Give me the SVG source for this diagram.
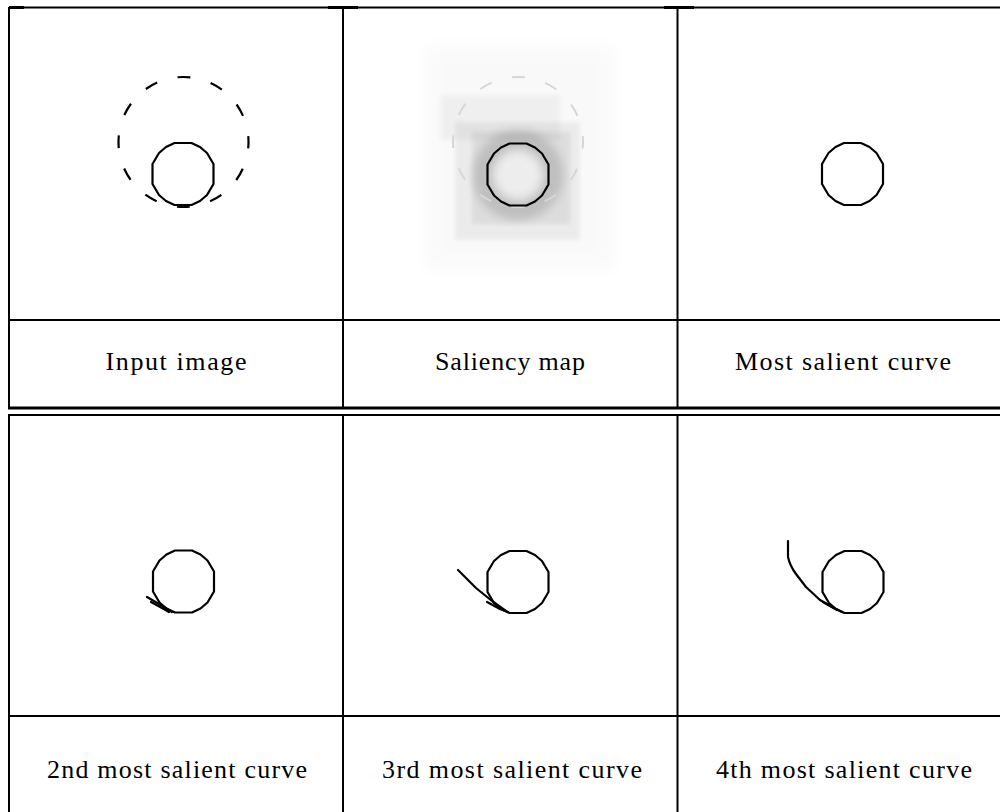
<svg xmlns="http://www.w3.org/2000/svg" width="1000" height="812" viewBox="0 0 1000 812">
<style>
.frame{stroke:#000;stroke-width:2;fill:none}
.thick{fill:#000}
.curve{fill:none;stroke:#000;stroke-width:2.2;stroke-linejoin:round;stroke-linecap:round}
.dash{fill:none;stroke:#000;stroke-width:2.2}
.lbl{font-family:"Liberation Serif","DejaVu Serif",serif;font-size:26px;fill:#000;text-anchor:middle}
</style>
<defs>
<path id="ring" d="M-8.5,-31 L8.5,-31 L17,-27 L24,-21 L30.5,-10 L30.5,10 L24,21 L17,27 L8.5,31 L-8.5,31 L-17,27 L-24,21 L-30.5,10 L-30.5,-10 L-24,-21 L-17,-27 Z"/>
<filter id="b8" x="-30%" y="-30%" width="160%" height="160%"><feGaussianBlur stdDeviation="8"/></filter>
<filter id="b4" x="-30%" y="-30%" width="160%" height="160%"><feGaussianBlur stdDeviation="4"/></filter>
<filter id="b2" x="-30%" y="-30%" width="160%" height="160%"><feGaussianBlur stdDeviation="2"/></filter>
</defs>
<rect width="1000" height="812" fill="#fff"/>

<g id="grid">
<line class="frame" x1="9" y1="7.5" x2="1000" y2="7.5"/>
<rect class="thick" x="9" y="6" width="15" height="3"/>
<rect class="thick" x="328" y="6" width="30" height="3"/>
<rect class="thick" x="664" y="6" width="30" height="3"/>
<line class="frame" x1="9" y1="7" x2="9" y2="409"/>
<line class="frame" x1="343" y1="7" x2="343" y2="409"/>
<line class="frame" x1="677.5" y1="7" x2="677.5" y2="409"/>
<line class="frame" x1="9" y1="320" x2="1000" y2="320"/>
<rect class="thick" x="8" y="406.5" width="992" height="3"/>
<rect class="thick" x="8" y="414" width="992" height="2"/>
<line class="frame" x1="9" y1="415" x2="9" y2="812"/>
<line class="frame" x1="343" y1="415" x2="343" y2="812"/>
<line class="frame" x1="677.5" y1="415" x2="677.5" y2="812"/>
<line class="frame" x1="9" y1="716" x2="1000" y2="716"/>
</g>

<g id="panel-input">
<circle class="dash" cx="183.5" cy="142" r="65" stroke-dasharray="13 21.03" stroke-dashoffset="6.5"/>
<use href="#ring" x="183" y="174" class="curve"/>
</g>

<g id="panel-saliency">
<rect x="425" y="45" width="190" height="225" fill="#000" opacity="0.02" filter="url(#b8)"/>
<rect x="440" y="95" width="120" height="45" fill="#000" opacity="0.035" filter="url(#b2)"/>
<rect x="455" y="122" width="125" height="118" fill="#000" opacity="0.05" filter="url(#b2)"/>
<rect x="472" y="132" width="98" height="92" fill="#000" opacity="0.06" filter="url(#b2)"/>
<circle cx="518" cy="175" r="36" fill="none" stroke="#000" stroke-width="18" opacity="0.13" filter="url(#b4)"/>
<circle cx="518" cy="175" r="22" fill="#fff" opacity="0.5" filter="url(#b4)"/>
<circle cx="518" cy="142" r="65" fill="none" stroke="#d6d6d6" stroke-width="2" stroke-dasharray="13 21.03" stroke-dashoffset="6.5"/>
<use href="#ring" x="518" y="174.5" class="curve"/>
</g>

<g id="panel-most">
<use href="#ring" x="852.5" y="174" class="curve"/>
</g>

<g id="panel-2nd">
<use href="#ring" x="183.5" y="581.5" class="curve"/>
<path class="curve" d="M147,597 L159,604 L172,612"/>
<path class="curve" d="M151,602 L162,608 L169,612"/>
</g>

<g id="panel-3rd">
<use href="#ring" x="518" y="582" class="curve"/>
<path class="curve" d="M458,570 L476,588 L492,601 L506,611"/>
<path class="curve" d="M487,602 L500,609 L508,612"/>
</g>

<g id="panel-4th">
<use href="#ring" x="853" y="582" class="curve"/>
<path class="curve" d="M788,541 L788,557 Q790,566 796,574 L806,587 L820,600 L834,608 L842,612"/>
<path class="curve" d="M823,602 L837,610"/>
</g>

<g id="labels" font-family="Liberation Serif, serif">
<text class="lbl" x="176" y="370" textLength="141" lengthAdjust="spacing">Input image</text>
<text class="lbl" x="510" y="370" textLength="150" lengthAdjust="spacing">Saliency map</text>
<text class="lbl" x="843" y="370" textLength="216" lengthAdjust="spacing">Most salient curve</text>
<text class="lbl" x="177" y="778" textLength="260" lengthAdjust="spacing">2nd most salient curve</text>
<text class="lbl" x="512" y="778" textLength="260" lengthAdjust="spacing">3rd most salient curve</text>
<text class="lbl" x="844" y="778" textLength="256" lengthAdjust="spacing">4th most salient curve</text>
</g>
</svg>
